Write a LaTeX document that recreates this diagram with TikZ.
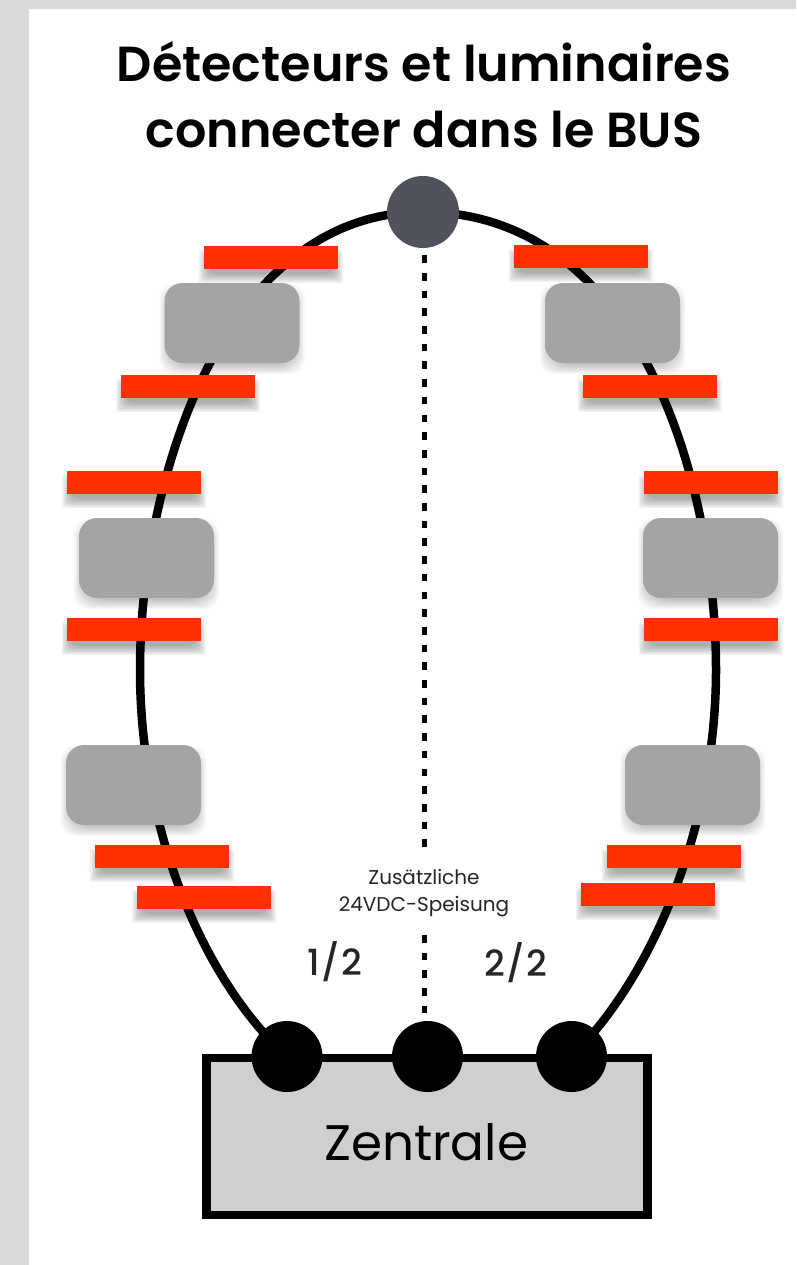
\documentclass[tikz,border=0pt]{standalone}
\usepackage{fontspec}
\setmainfont{Poppins}[BoldFont={Poppins SemiBold}]
\newfontfamily\fracfont{Poppins Medium}[LetterSpace=4]
\usetikzlibrary{backgrounds,calc}
\definecolor{pagegrey}{HTML}{D9D9D9}
\definecolor{barred}{HTML}{FF2F00}
\definecolor{boxgrey}{HTML}{A4A4A4}
\definecolor{topdot}{HTML}{50535C}
\definecolor{panelgrey}{HTML}{CFCFCF}
\tikzset{
  redbar/.style={fill=barred,inner sep=0pt,minimum width=134pt,minimum height=23pt},
  greybox/.style={fill=boxgrey,rounded corners=18pt,inner sep=0pt,minimum width=135pt,minimum height=80pt},
  dotnode/.style={circle,fill=black,inner sep=0pt,minimum size=71pt},
  busline/.style={line width=8.5pt,black},
  feedline/.style={line width=5pt,black,dash pattern=on 7.6pt off 10.1pt},
  smalltext/.style={font=\fontsize{20}{27}\selectfont,align=center,text=black!85},
  fractext/.style={font=\fracfont\fontsize{36}{38}\selectfont,text=black!85},
}
% soft drop shadow: #1 x, #2 y, #3 w, #4 h, #5 corner, #6 yshift, #7 opacity
\newcommand{\softshadow}[7]{%
  \foreach \g in {0,1.5,...,9}{
    \fill[black,opacity=#7,rounded corners=#5+\g*1pt]
      ($(#1,#2+#6)+(-#3/2-5+\g,-#4/2-5+\g)$) rectangle ($(#1,#2+#6)+(#3/2+5-\g,#4/2+5-\g)$);
  }}
\newcommand{\rbar}[3]{\softshadow{#2}{#3}{134}{23}{0pt}{9}{0.05}\node[redbar] (#1) at (#2,#3) {};}
\newcommand{\gbox}[3]{\softshadow{#2}{#3}{135}{80}{15pt}{6}{0.035}\node[greybox] (#1) at (#2,#3) {};}
\begin{document}
\begin{tikzpicture}[x=1pt,y=-1pt]
\useasboundingbox (0,0) rectangle (796,1265);
\coordinate (lmid) at (140,670);
\coordinate (rmid) at (716,670);
% central unit
\node[draw=black,fill=panelgrey,line width=8.5pt,inner sep=0pt,minimum width=441pt,minimum height=157pt] (zentrale) at (427,1136.5) {};
\node[font=\fontsize{50}{56}\selectfont,inner sep=0pt] (zentraletext) at (426,1142) {Zentrale};
% red bars and grey boxes
\rbar{bl1}{271}{257.5}
\rbar{bl2}{188}{386.5}
\rbar{bl3}{134}{482.5}
\rbar{bl4}{133.5}{629.5}
\rbar{bl5}{162}{856.5}
\rbar{bl6}{204}{897.5}
\rbar{br1}{580.5}{256.5}
\rbar{br2}{649.5}{386.5}
\rbar{br3}{710.5}{482.5}
\rbar{br4}{710.5}{629.5}
\rbar{br5}{673.5}{856.5}
\rbar{br6}{647.5}{894.5}
\gbox{gl1}{232}{323}
\gbox{gr1}{612.5}{323}
\gbox{gl2}{146.5}{558}
\gbox{gr2}{710.5}{558}
\gbox{gl3}{133.5}{785}
\gbox{gr3}{692.5}{785}
% dots
\node[dotnode,fill=topdot,minimum size=72pt] (top) at (423,212) {};
\node[dotnode] (b1) at (287,1056.5) {};
\node[dotnode] (b2) at (427.5,1056.5) {};
\node[dotnode] (b3) at (571.5,1056.5) {};
% texts
\node[smalltext] (feedlabel) at (424,893) {Zusätzliche\\24VDC-Speisung};
\node[fractext] (half1) at (335,962) {1/2};
\node[fractext] (half2) at (515.5,963) {2/2};
\node[font=\bfseries\fontsize{49.2}{66}\selectfont,align=center,inner sep=0pt] (title) at (424,94.5)
  {Détecteurs et luminaires\\connecter dans le BUS};
% connectors and page behind everything
\begin{pgfonlayer}{background}
  \fill[pagegrey] (0,0) rectangle (796,1265);
  \fill[white] (29,9) rectangle (796,1265);
  \draw[busline] (top.center) .. controls +(-200,0) and (140,480) .. (lmid)
                 .. controls (140,830) and (203,980) .. (b1.center);
  \draw[busline] (top.center) .. controls +(215,0) and (716,480) .. (rmid)
                 .. controls (716,830) and (650,980) .. (b3.center);
  \draw[feedline] ($(top.south)+(1.3,7)$) -- (424.3,847);
  \draw[feedline] (424.3,935) -- ($(b2.north)+(-3.2,-7.5)$);
\end{pgfonlayer}
\end{tikzpicture}
\end{document}
